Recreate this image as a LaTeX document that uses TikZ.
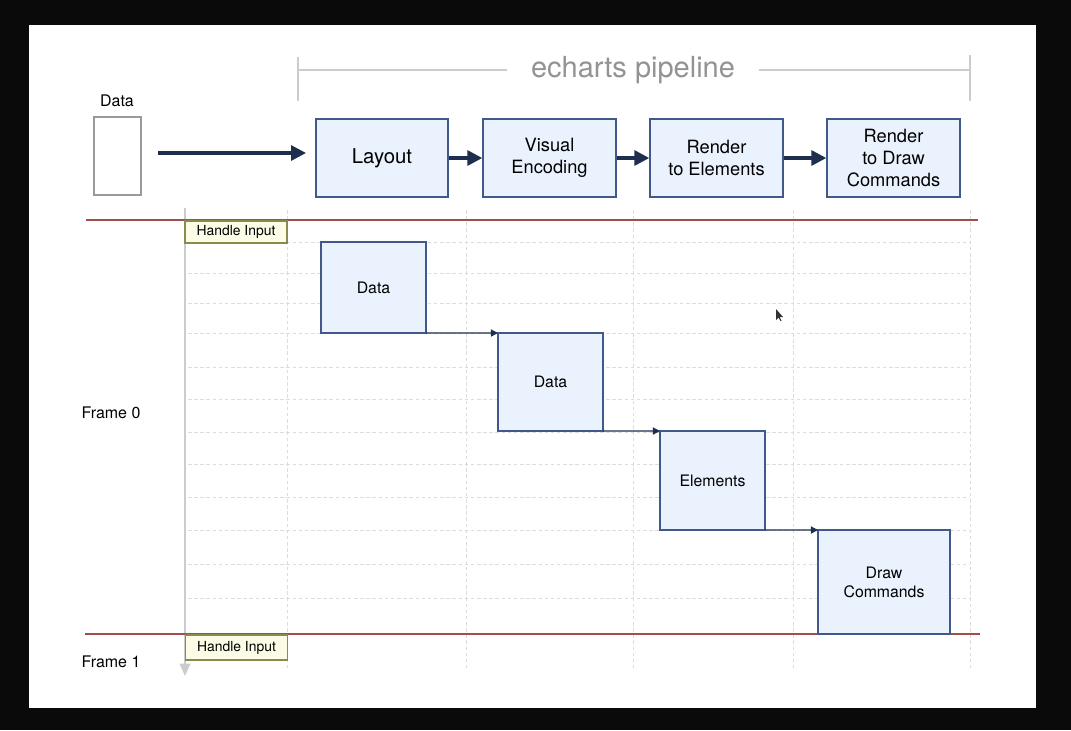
\documentclass[tikz,border=0pt]{standalone}
\usepackage{fontspec}
\setmainfont{TeX Gyre Heros}
\usetikzlibrary{arrows.meta}
\definecolor{boxfill}{HTML}{EAF2FD}
\definecolor{boxline}{HTML}{41598A}
\definecolor{navy}{HTML}{1D2E4E}
\definecolor{framered}{HTML}{A04E4E}
\definecolor{hifill}{HTML}{FCFCE6}
\definecolor{hiline}{HTML}{8A8A4C}
\definecolor{gridgray}{HTML}{DCDCDC}

\begin{document}
\begin{tikzpicture}[x=0.02cm,y=-0.02cm,
  pbox/.style={draw=boxline,fill=boxfill,line width=1.1pt,minimum width=2.65cm,minimum height=1.56cm,align=center,inner sep=0pt,font=\fontsize{10.4}{12.3}\selectfont},
  fbox/.style={draw=boxline,fill=boxfill,line width=1.1pt,outer sep=0pt,align=center,inner sep=0pt,font=\fontsize{9}{10.8}\selectfont},
  hinput/.style={draw=hiline,fill=hifill,line width=1pt,minimum width=2.04cm,inner sep=0pt,font=\fontsize{7.9}{9}\selectfont},
  darr/.style={navy,line width=1.8pt,-{Triangle[length=8.5pt,width=8.5pt]}},
  thin arr/.style={navy,line width=0.7pt,-{Triangle[length=4pt,width=4pt]}},
  lbl/.style={font=\fontsize{9.1}{10}\selectfont}]
\fill[black!96] (0,0) rectangle (1071,730);
\fill[white] (29,25) rectangle (1036,708);

% grid
\foreach \y in {242,273,303,333,367,399,432,464,497,530,564,598}
  \draw[gridgray,dash pattern=on 2pt off 1.5pt,line width=0.4pt] (188,\y) -- (970,\y);
\foreach \x in {287,466,633,793,970}
  \draw[gridgray,dash pattern=on 2pt off 1.5pt,line width=0.4pt] (\x,210) -- (\x,668);
\draw[gray!40,line width=1.2pt,-{Triangle[length=7pt,width=6pt]}] (185,208) -- (185,676);
\draw[framered,line width=1.1pt] (86,220) -- (978,220);
\draw[framered,line width=1.1pt] (85,634) -- (980,634);

% pipeline header
\node[gray!85,inner xsep=0.48cm,font=\fontsize{16.5}{18}\selectfont] (title) at (633,70) {echarts pipeline};
\draw[gray!40,line width=0.9pt] (298,57) -- (298,101) (298,70) -- (title.west);
\draw[gray!40,line width=0.9pt] (970,55) -- (970,101) (970,70) -- (title.east);

\node[lbl] at (117,101) {Data};
\node[draw=gray!80,line width=0.6pt,minimum width=0.94cm,minimum height=1.56cm] (src) at (117.5,156) {};
\coordinate (srcend) at (158,153);
\coordinate (lay in) at (306,153);
\node[pbox,font=\fontsize{11.6}{13}\selectfont] (lay) at (382,158) {Layout};
\node[pbox] (venc) at (549.5,158) {Visual\\Encoding};
\node[pbox] (rel) at (716.5,158) {Render\\to Elements};
\node[pbox] (rdc) at (893.5,158) {Render\\to Draw\\Commands};
\draw[darr] (srcend) -- (lay in);
\draw[darr] (lay) -- (venc);
\draw[darr] (venc) -- (rel);
\draw[darr] (rel) -- (rdc);

% frame 0
\node[hinput,minimum height=0.44cm] (hi0) at (236,232) {Handle Input};
\node[hinput,minimum height=0.5cm] (hi1) at (236.5,647.5) {Handle Input};
\node[fbox,minimum width=2.1cm,minimum height=1.82cm] (d1) at (373.5,287.5) {Data};
\node[fbox,minimum width=2.1cm,minimum height=1.96cm] (d2) at (550.5,382) {Data};
\node[fbox,minimum width=2.1cm,minimum height=1.98cm] (el) at (712.5,480.5) {Elements};
\node[fbox,minimum width=2.64cm,minimum height=2.08cm] (dc) at (884,582) {Draw\\Commands};
\draw[thin arr] (d1.south east) -- (d2.north west);
\draw[thin arr] (d2.south east) -- (el.north west);
\draw[thin arr] (el.south east) -- (dc.north west);

\node[lbl] (f0) at (111,413) {Frame 0};
\node[lbl] (f1) at (111,662) {Frame 1};

% cursor
\fill[black!80] (776,309) -- (776,320) -- (778.5,317.5) -- (780.5,321) -- (781.5,320.5) -- (779.5,317) -- (783,317) -- cycle;
\end{tikzpicture}
\end{document}
